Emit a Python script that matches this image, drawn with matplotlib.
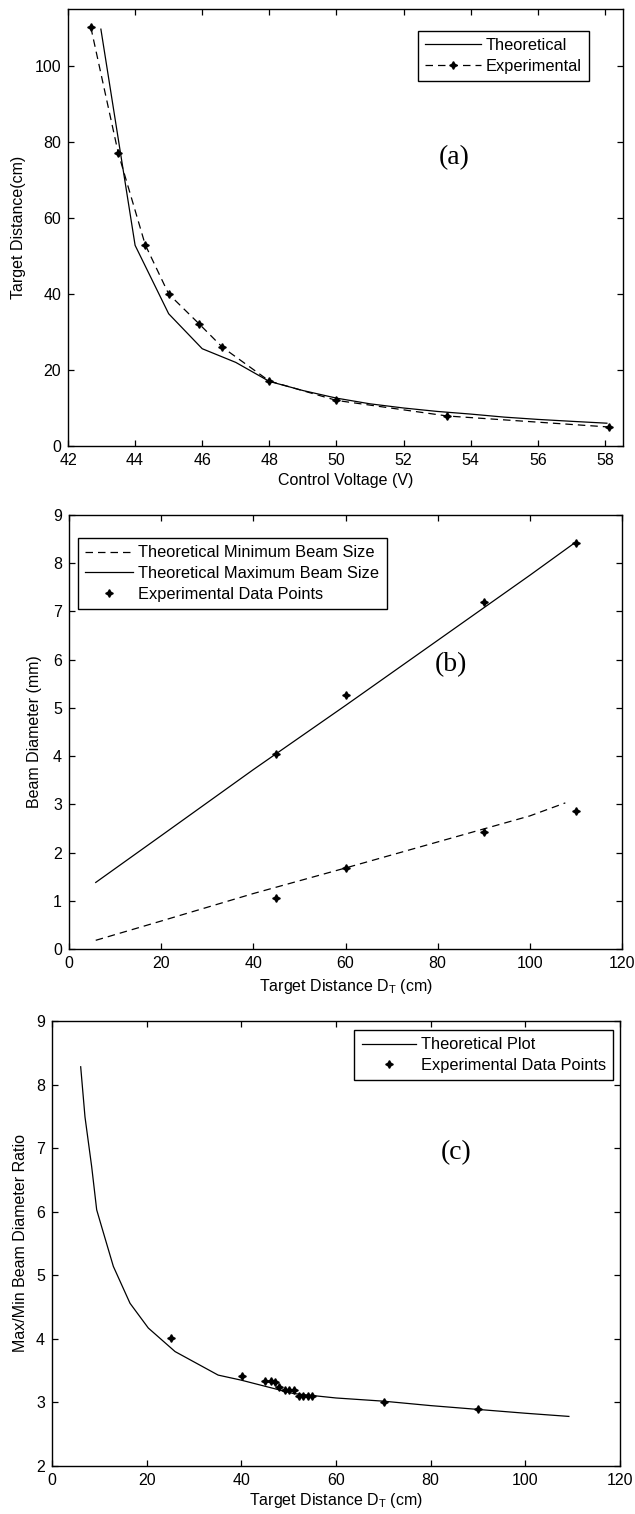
import matplotlib
matplotlib.use("Agg")
import matplotlib.pyplot as plt
from matplotlib import font_manager

# ---------------- data ----------------
# (a) Control voltage vs target distance
theo_v = [42.98, 44.0, 45.0, 46.0, 47.0, 48.0, 49.0, 50.0, 51.0, 52.0, 53.0, 54.0, 55.0, 56.0, 57.0, 58.06]
theo_d = [109.7, 52.8, 34.8, 25.6, 22.0, 17.0, 14.6, 12.6, 11.1, 10.0, 9.1, 8.4, 7.6, 7.0, 6.5, 6.0]
exp_v = [42.68, 43.5, 44.3, 45.0, 45.9, 46.6, 48.0, 50.0, 53.3, 58.12]
exp_d = [110.2, 77.0, 53.0, 40.0, 32.2, 26.0, 17.1, 12.0, 7.9, 5.0]

# (b) Beam diameter vs target distance
dt_max = [5.8, 20, 40, 60, 80, 100, 109.7]
bmax = [1.38, 2.35, 3.72, 5.05, 6.40, 7.75, 8.42]
dt_min = [5.8, 20, 40, 60, 80, 100, 107.7]
bmin = [0.18, 0.58, 1.15, 1.68, 2.22, 2.76, 3.03]
exp_dt_b = [45, 60, 90, 110, 45, 60, 90, 110]
exp_b = [4.05, 5.26, 7.20, 8.41, 1.05, 1.68, 2.42, 2.87]

# (c) Ratio vs target distance
dt_c = [6.06, 6.97, 8.38, 9.44, 10.5, 12.96, 16.48, 20.35, 26.0, 35.1, 40, 51, 60, 70, 80, 90, 100, 109.2]
ratio_c = [8.28, 7.49, 6.71, 6.03, 5.76, 5.14, 4.56, 4.17, 3.80, 3.43, 3.35, 3.14, 3.07, 3.02, 2.95, 2.89, 2.83, 2.78]
exp_dt_c = [25.2, 40.1, 45.1, 46.2, 47.1, 47.9, 49.2, 50.0, 51.1, 52.1, 53.1, 54.1, 55.0, 70.2, 90.1]
exp_r = [4.02, 3.41, 3.34, 3.34, 3.32, 3.25, 3.20, 3.20, 3.19, 3.10, 3.10, 3.10, 3.10, 3.01, 2.90]

# ---------------- style ----------------
names = {f.name for f in font_manager.fontManager.ttflist}
sans = ["Liberation Sans Narrow"] if "Liberation Sans Narrow" in names else []
sans += ["Liberation Sans", "DejaVu Sans"]
plt.rcParams["font.family"] = sans
plt.rcParams["mathtext.default"] = "regular"

W, H = 635, 1514
fig = plt.figure(figsize=(W / 100, H / 100), dpi=100)

def make_ax(l, t, r, b):
    return fig.add_axes([l / W, 1 - b / H, (r - l) / W, (b - t) / H])

TICK_FS = 11.5
LAB_FS = 11.5
LEG_FS = 11.8
LW = 0.9
DASH = (6, 4)
MK = (4, 1, 0)
MS = 5.5

def style(ax):
    ax.tick_params(direction="in", top=True, right=True, length=4.5, width=0.9,
                   labelsize=TICK_FS, pad=5, colors="black")
    for s in ax.spines.values():
        s.set_linewidth(1.0)
        s.set_color("black")

# ---------------- (a) ----------------
ax = make_ax(68, 9, 623, 446)
ax.plot(theo_v, theo_d, color="black", lw=LW, label="Theoretical")
ax.plot(exp_v, exp_d, color="black", lw=LW, dashes=DASH, marker=MK, ms=MS,
        label="Experimental")
ax.set_xlim(42, 58.54)
ax.set_ylim(0, 115)
ax.set_xticks(range(42, 59, 2))
ax.set_yticks(range(0, 101, 20))
style(ax)
ax.set_xlabel("Control Voltage (V)", fontsize=LAB_FS, labelpad=4)
ax.set_ylabel("Target Distance(cm)", fontsize=LAB_FS, labelpad=6)
ax.text(0.695, 0.66, "(a)", transform=ax.transAxes, fontsize=20,
        family=["Liberation Serif", "DejaVu Serif"], ha="center", va="center")
leg = ax.legend(loc="upper right", bbox_to_anchor=(0.939, 0.950), borderaxespad=0,
                fontsize=LEG_FS, handlelength=3.4, handletextpad=0.3,
                borderpad=0.45, labelspacing=0.35, fancybox=False, numpoints=1,
                framealpha=1, edgecolor="black")
leg.get_frame().set_linewidth(1.0)

# ---------------- (b) ----------------
ax = make_ax(69, 515, 622, 949)
ax.plot(dt_min, bmin, color="black", lw=LW, dashes=DASH, label="Theoretical Minimum Beam Size")
ax.plot(dt_max, bmax, color="black", lw=LW, label="Theoretical Maximum Beam Size")
ax.plot(exp_dt_b, exp_b, ls="none", color="black", marker=MK, ms=MS,
        label="Experimental Data Points")
ax.set_xlim(0, 120)
ax.set_ylim(0, 9)
ax.set_xticks(range(0, 121, 20))
ax.set_yticks(range(0, 10))
style(ax)
ax.set_xlabel("Target Distance D$_T$ (cm)", fontsize=LAB_FS, labelpad=4)
ax.set_ylabel("Beam Diameter (mm)", fontsize=LAB_FS, labelpad=8)
ax.text(0.69, 0.655, "(b)", transform=ax.transAxes, fontsize=20,
        family=["Liberation Serif", "DejaVu Serif"], ha="center", va="center")
leg = ax.legend(loc="upper left", bbox_to_anchor=(0.016, 0.947), borderaxespad=0,
                fontsize=LEG_FS, handlelength=2.9, handletextpad=0.35,
                borderpad=0.45, labelspacing=0.35, fancybox=False, numpoints=1,
                framealpha=1, edgecolor="black")
leg.get_frame().set_linewidth(1.0)

# ---------------- (c) ----------------
ax = make_ax(52, 1021, 620, 1466)
ax.plot(dt_c, ratio_c, color="black", lw=LW, label="Theoretical Plot")
ax.plot(exp_dt_c, exp_r, ls="none", color="black", marker=MK, ms=MS,
        label="Experimental Data Points")
ax.set_xlim(0, 120)
ax.set_ylim(2, 9)
ax.set_xticks(range(0, 121, 20))
ax.set_yticks(range(2, 10))
style(ax)
ax.set_xlabel("Target Distance D$_T$ (cm)", fontsize=LAB_FS, labelpad=2)
ax.set_ylabel("Max/Min Beam Diameter Ratio", fontsize=LAB_FS, labelpad=6)
ax.text(0.712, 0.705, "(c)", transform=ax.transAxes, fontsize=20,
        family=["Liberation Serif", "DejaVu Serif"], ha="center", va="center")
leg = ax.legend(loc="upper right", bbox_to_anchor=(0.988, 0.980), borderaxespad=0,
                fontsize=LEG_FS, handlelength=3.3, handletextpad=0.3,
                borderpad=0.45, labelspacing=0.35, fancybox=False, numpoints=1,
                framealpha=1, edgecolor="black")
leg.get_frame().set_linewidth(1.0)

fig.savefig("out.png", dpi=100, facecolor="white")
